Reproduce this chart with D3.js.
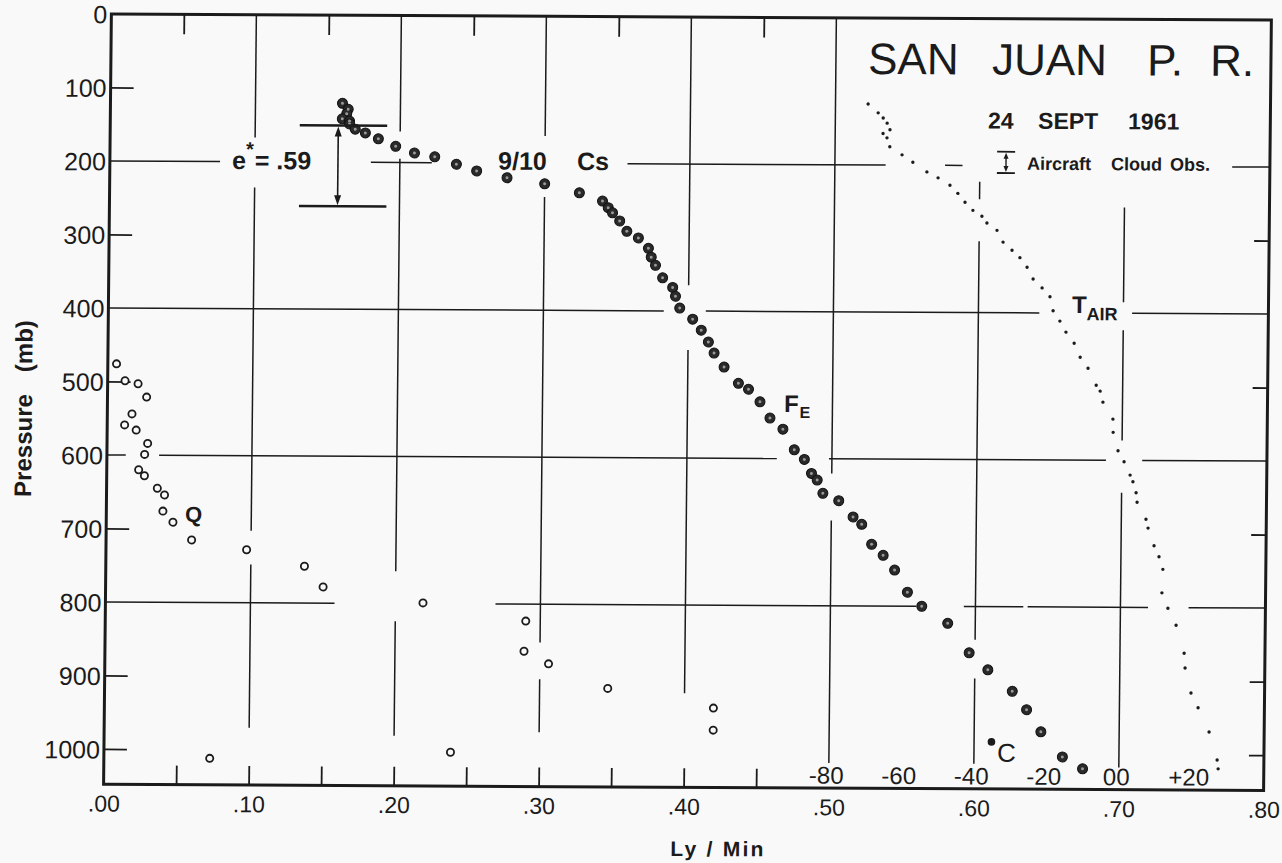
<!DOCTYPE html>
<html>
<head>
<meta charset="utf-8">
<script src="https://cdn.jsdelivr.net/npm/d3@7/dist/d3.min.js"></script>
<style>
  body { margin: 0; background: #f9f9f9; }
  #chart { display: block; font-family: "Liberation Sans", Arial, sans-serif; }
</style>
</head>
<body>
<svg id="chart"></svg>
<script>
// ---- values ----
// F_E profile (Ly/min vs pressure, mb)
let feLy = [.160,.164,.163,.160,.165,.165,.169,.176,.185,.197,.210,.224,.239,.253,.274,.300,.324,.340,.344,.347,
            .352,.357,.365,.372,.374,.377,.382,.389,.391,.394,.403,.409,.414,.418,.425,.435,.442,.450,.457,.466,
            .474,.481,.486,.490,.494,.505,.515,.521,.528,.536,.544,.553,.563,.581,.596,.609,.626,.636,.646,.661,.675]
let fePres = [120,128,134,141,144,148,155,160,168,178,187,192,202,211,220,228,240,251,260,267,
              278,292,301,315,327,338,355,368,380,396,411,426,442,457,476,498,506,523,545,560,
              588,601,620,629,647,657,679,689,716,731,751,781,800,823,863,886,915,940,970,1004,1020]

// Q profile
let qLy = [.006,.012,.021,.027,.017,.012,.020,.028,.026,.022,.026,.035,.040,.039,.046,.059,.097,.137,.150,.219,
           .290,.289,.306,.347,.420,.420,.239,.073]
let qPres = [476,499,503,521,544,559,566,584,599,620,628,645,654,676,691,715,728,750,778,799,
             823,864,881,914,940,970,1002,1012]

// air temperature (deg C vs pressure, mb)
let tairTemp = [-71.0,-68.2,-66.8,-65.7,-64.9,-66.8,-65.7,-64.9,-61.5,-58.5,-54.6,-51.5,-48.2,-46.0,-44.0,-41.8,
                -39.3,-37.9,-35.1,-33.4,-30.9,-28.7,-26.7,-25.0,-22.5,-20.3,-19.4,-17.5,-15.8,-13.5,-11.8,-9.6,
                -7.3,-6.2,-5.4,-2.6,-2.5,-1.1,0.6,2.3,3.1,4.0,4.3,6.8,7.4,9.1,10.5,11.6,11.4,13.1,15.4,17.7,
                18.0,19.7,21.7,24.8,27.1,27.4]
let tairPres = [117,129,136,143,152,157,163,175,186,196,209,217,227,238,250,261,269,278,288,304,315,325,338,354,
                366,378,397,411,426,441,460,475,498,506,521,544,562,587,602,620,629,644,657,680,692,716,731,748,
                780,801,824,862,882,916,936,969,1007,1019]

// single point marked C
let cLy = [0.612]
let cPres = [984]

// aircraft cloud observation (top, base in mb)
let cloudObs = [150, 260]

// ---- ticks and labels ----
let pressureLabels = [0,100,200,300,400,500,600,700,800,900,1000]
let pressureTicksLeft = [100,300,500,700,900,1000]
let pressureTicksRight = [300,500,700,900,1000]
let lyLabels = [0,.1,.2,.3,.4,.5,.6,.7,.8]
let lyTopTicks = [.05,.15,.25,.35,.45]
let lyBottomTicks = [.05,.1,.15,.2,.25,.3,.35,.4,.45]
let tempTicks = [-80,-60,-40,-20,0,20]
let tempLabels = ["-80","-60","-40","-20","00","+20"]

// hand drawn grid lines are broken where labels / points sit
let hGrid = [
  {p: 200, segs: [[0,.076],[.180,.222],[.357,.535],[.576,.588],[.774,.8]]},
  {p: 400, segs: [[0,.383],[.412,.642],[.706,.8]]},
  {p: 600, segs: [[0,.013],[.036,.462],[.498,.689],[.714,.8]]},
  {p: 800, segs: [[0,.158],[.269,.559],[.592,.633],[.636,.719],[.747,.8]]}
]
let vGrid = [
  {ly: .1, segs: [[0,167],[235,702],[748,970]]},
  {ly: .2, segs: [[0,158],[195,756],[824,980]]},
  {ly: .3, segs: [[0,163],[246,852],[902,974]]},
  {ly: .4, segs: [[0,365],[453,920]]},
  {ly: .5, segs: [[0,620],[684,1014]]},
  {ly: .6, segs: [[222,246],[303,845],[898,1014]]},
  {ly: .7, segs: [[256,385],[423,573],[644,1018]]}
]

let ink = "#1b1b1b"
let pMax = 1048

function getConfig() {
  let width = 1282
  let height = 863
  let container = d3.select("#chart").attr("width", width).attr("height", height)
  container.append("rect").attr("width", width).attr("height", height).attr("fill", "#f9f9f9")
  // the source is a slightly skewed scan, so the whole drawing gets a small shear
  let body = container.append("g")
      .attr("transform", "matrix(1,0.0053,-0.0101,1,4.04,-3.63)")
  return { width, height, container, body }
}

function getScales() {
  let x = d3.scaleLinear().domain([0, 0.8]).range([107.5, 1267.5])
  let y = d3.scaleLinear().domain([0, pMax]).range([17, 787.3])
  // temperature scale printed along the bottom: -80 sits on .50, +20 on .75
  let t = d3.scaleLinear().domain([-80, 20]).range([x(0.5), x(0.75)])
  return { x, y, t }
}

function drawGrid(scales, config) {
  let { x, y } = scales
  let { body } = config
  hGrid.forEach(row => {
    body.selectAll(null).data(row.segs).enter().append("line")
      .attr("x1", d => x(d[0])).attr("x2", d => x(d[1]))
      .attr("y1", y(row.p)).attr("y2", y(row.p))
      .attr("stroke", ink).attr("stroke-width", 1.5)
  })
  vGrid.forEach(col => {
    body.selectAll(null).data(col.segs).enter().append("line")
      .attr("y1", d => y(d[0])).attr("y2", d => y(d[1]))
      .attr("x1", x(col.ly)).attr("x2", x(col.ly))
      .attr("stroke", ink).attr("stroke-width", 1.5)
  })
}

function tickStyle(sel) {
  sel.select(".domain").remove()
  sel.selectAll("line").attr("stroke", ink).attr("stroke-width", 1.8)
}

function labelStyle(sel, size) {
  sel.select(".domain").remove()
  sel.attr("font-family", null).attr("font-size", size)
  sel.selectAll("text").attr("fill", ink)
}

function drawAxes(scales, config) {
  let { x, y, t } = scales
  let { body } = config

  body.append("g").attr("transform", `translate(${x(0)},0)`)
    .call(d3.axisLeft(y).tickValues(pressureTicksLeft).tickSize(-23).tickFormat(""))
    .call(tickStyle)
  body.append("g").attr("transform", `translate(${x(0.8)},0)`)
    .call(d3.axisRight(y).tickValues(pressureTicksRight).tickSize(-15).tickFormat(""))
    .call(tickStyle)
  body.append("g").attr("transform", `translate(0,${y(0)})`)
    .call(d3.axisTop(x).tickValues(lyTopTicks).tickSize(-20).tickFormat(""))
    .call(tickStyle)
  body.append("g").attr("transform", `translate(0,${y(pMax)})`)
    .call(d3.axisBottom(x).tickValues(lyBottomTicks).tickSize(-19).tickFormat(""))
    .call(tickStyle)

  // frame
  body.append("rect")
    .attr("x", x(0)).attr("y", y(0))
    .attr("width", x(0.8) - x(0)).attr("height", y(pMax) - y(0))
    .attr("fill", "none").attr("stroke", ink).attr("stroke-width", 3)

  let yl = body.append("g").attr("transform", `translate(${x(0)},0)`)
    .call(d3.axisLeft(y).tickValues(pressureLabels).tickSize(0).tickPadding(4)
      .tickFormat(d3.format("d")))
  labelStyle(yl, 25)
  yl.selectAll("text").attr("dy", "0.36em")

  let xl = body.append("g").attr("transform", `translate(0,${y(pMax)})`)
    .call(d3.axisBottom(x).tickValues(lyLabels).tickSize(0).tickPadding(11)
      .tickFormat(d => d3.format(".2f")(d).slice(1)))
  labelStyle(xl, 23)

  let tl = body.append("g").attr("transform", `translate(-3,${y(1042)})`)
    .call(d3.axisBottom(t).tickValues(tempTicks).tickSize(0)
      .tickFormat((d, i) => tempLabels[i]))
  labelStyle(tl, 24)
  tl.selectAll("text").attr("y", 0).attr("dy", 0)

  body.append("text")
    .attr("x", x(0.4234)).attr("y", 856)
    .attr("text-anchor", "middle").attr("font-weight", "bold").attr("font-size", 21)
    .attr("textLength", 93).attr("lengthAdjust", "spacing")
    .attr("fill", ink).text("Ly / Min")

  let py = body.append("text")
    .attr("transform", "translate(32,412) rotate(-90)")
    .attr("text-anchor", "middle").attr("font-weight", "bold").attr("font-size", 24)
    .attr("fill", ink)
  py.append("tspan").text("Pressure")
  py.append("tspan").attr("dx", 22).text("(mb)")
}

function drawSeries(scales, config) {
  let { x, y, t } = scales
  let { body } = config

  body.selectAll(".q").data(d3.zip(qLy, qPres)).enter().append("circle")
    .attr("class", "q")
    .attr("cx", d => x(d[0])).attr("cy", d => y(d[1])).attr("r", 3.6)
    .attr("fill", "#f9f9f9").attr("stroke", ink).attr("stroke-width", 1.8)

  body.selectAll(".tair").data(d3.zip(tairTemp, tairPres)).enter().append("circle")
    .attr("class", "tair")
    .attr("cx", d => t(d[0])).attr("cy", d => y(d[1])).attr("r", 1.7)
    .attr("fill", ink)

  let fe = d3.zip(feLy, fePres)
  body.selectAll(".fe").data(fe).enter().append("circle")
    .attr("class", "fe")
    .attr("cx", d => x(d[0])).attr("cy", d => y(d[1])).attr("r", 5)
    .attr("fill", "#2a2a2a").attr("stroke", "#111").attr("stroke-width", 1)
  body.selectAll(".fe-dot").data(fe).enter().append("circle")
    .attr("class", "fe-dot")
    .attr("cx", d => x(d[0])).attr("cy", d => y(d[1])).attr("r", 1.5)
    .attr("fill", "#9a9a9a")

  body.selectAll(".cpt").data(d3.zip(cLy, cPres)).enter().append("circle")
    .attr("class", "cpt")
    .attr("cx", d => x(d[0])).attr("cy", d => y(d[1])).attr("r", 3.8)
    .attr("fill", ink)
}

function drawAnnotations(scales, config) {
  let { x, y } = scales
  let { body } = config

  // aircraft cloud observation bracket
  body.append("line").attr("x1", x(0.1307)).attr("x2", x(0.191))
    .attr("y1", y(cloudObs[0])).attr("y2", y(cloudObs[0]))
    .attr("stroke", ink).attr("stroke-width", 2.5)
  body.append("line").attr("x1", x(0.1307)).attr("x2", x(0.191))
    .attr("y1", y(cloudObs[1])).attr("y2", y(cloudObs[1]))
    .attr("stroke", ink).attr("stroke-width", 2.5)
  let ax = x(0.1573)
  body.append("line").attr("x1", ax).attr("x2", ax)
    .attr("y1", y(cloudObs[0]) + 8).attr("y2", y(cloudObs[1]) - 8)
    .attr("stroke", ink).attr("stroke-width", 1.6)
  body.append("path")
    .attr("d", `M${ax},${y(cloudObs[0]) + 1}l-3.5,10h7Z`).attr("fill", ink)
  body.append("path")
    .attr("d", `M${ax},${y(cloudObs[1]) - 1}l-3.5,-10h7Z`).attr("fill", ink)

  // legend symbol
  let lx = x(0.618)
  body.append("line").attr("x1", lx - 9).attr("x2", lx + 9)
    .attr("y1", y(181)).attr("y2", y(181)).attr("stroke", ink).attr("stroke-width", 1.8)
  body.append("line").attr("x1", lx - 9).attr("x2", lx + 9)
    .attr("y1", y(210)).attr("y2", y(210)).attr("stroke", ink).attr("stroke-width", 1.8)
  body.append("line").attr("x1", lx).attr("x2", lx)
    .attr("y1", y(181) + 4).attr("y2", y(210) - 4).attr("stroke", ink).attr("stroke-width", 1.4)
  body.append("path").attr("d", `M${lx},${y(181) + 1}l-2.5,6h5Z`).attr("fill", ink)
  body.append("path").attr("d", `M${lx},${y(210) - 1}l-2.5,-6h5Z`).attr("fill", ink)

  let leg = body.append("text").attr("y", 168).attr("font-weight", "bold")
    .attr("font-size", 18).attr("fill", ink)
  leg.append("tspan").attr("x", 1024.7).text("Aircraft")
  leg.append("tspan").attr("x", 1108.7).text("Cloud")
  leg.append("tspan").attr("x", 1167.7).text("Obs.")

  // title block
  let title = body.append("text").attr("y", 73).attr("font-size", 44).attr("fill", ink)
  title.append("tspan").attr("x", 864.7).text("SAN")
  title.append("tspan").attr("x", 988.7).text("JUAN")
  title.append("tspan").attr("x", 1143.7).text("P.")
  title.append("tspan").attr("x", 1206.7).text("R.")

  let date = body.append("text").attr("y", 127).attr("font-weight", "bold")
    .attr("font-size", 23).attr("fill", ink)
  date.append("tspan").attr("x", 985.3).text("24")
  date.append("tspan").attr("x", 1035.3).text("SEPT")
  date.append("tspan").attr("x", 1125.3).text("1961")

  // e* = .59
  let eps = body.append("text").attr("x", x(0.0843)).attr("y", y(210))
    .attr("font-weight", "bold").attr("font-size", 25).attr("fill", ink)
  eps.append("tspan").text("e")
  eps.append("tspan").attr("font-size", 20).attr("dx", 0).attr("dy", -13).text("*")
  eps.append("tspan").attr("dx", 1).attr("dy", 13).text("= .59")

  let cs = body.append("text").attr("y", y(209)).attr("font-weight", "bold")
    .attr("font-size", 25).attr("fill", ink)
  cs.append("tspan").attr("x", x(0.2678)).text("9/10")
  cs.append("tspan").attr("x", x(0.3222)).text("Cs")

  let fl = body.append("text").attr("x", x(0.4666)).attr("y", y(536.7))
    .attr("font-weight", "bold").attr("font-size", 24).attr("fill", ink)
  fl.append("tspan").text("F")
  fl.append("tspan").attr("font-size", 16).attr("dx", 1).attr("dy", 6).text("E")

  let tl = body.append("text").attr("x", x(0.6645)).attr("y", y(400))
    .attr("font-weight", "bold").attr("font-size", 24).attr("fill", ink)
  tl.append("tspan").text("T")
  tl.append("tspan").attr("font-size", 18).attr("dy", 7).text("AIR")

  body.append("text").attr("x", x(0.0543)).attr("y", y(690.7))
    .attr("font-weight", "bold").attr("font-size", 22).attr("fill", ink).text("Q")

  body.append("text").attr("x", x(0.6159)).attr("y", y(1011))
    .attr("font-size", 26).attr("fill", ink).text("C")
}

function showChart() {
  let config = getConfig()
  let scales = getScales()
  drawGrid(scales, config)
  drawAxes(scales, config)
  drawSeries(scales, config)
  drawAnnotations(scales, config)
}

showChart()
</script>
</body>
</html>
